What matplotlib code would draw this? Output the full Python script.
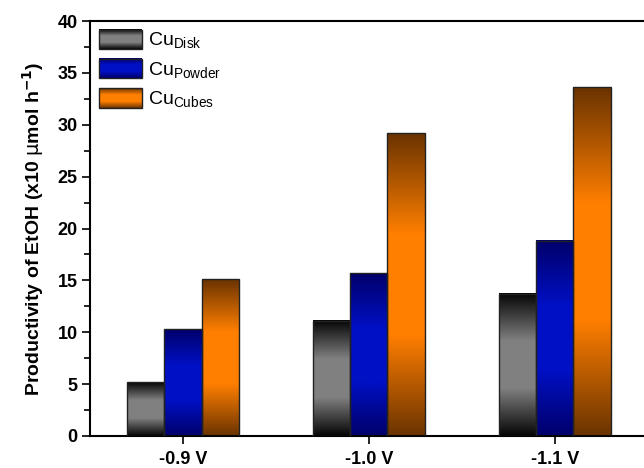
import numpy as np
import matplotlib.pyplot as plt
from matplotlib.colors import LinearSegmentedColormap
from matplotlib.legend_handler import HandlerBase
from matplotlib.image import BboxImage
from matplotlib.transforms import Bbox, TransformedBbox
from matplotlib.patches import Rectangle
from matplotlib.ticker import MultipleLocator

plt.rcParams['font.family'] = ['Liberation Sans', 'DejaVu Sans']

# data
potentials = ['-0.9 V', '-1.0 V', '-1.1 V']
cu_disk = [5.2, 11.1, 13.7]
cu_powder = [10.3, 15.7, 18.8]
cu_cubes = [15.1, 29.2, 33.6]
series_names = ['Cu$_{\\mathregular{Disk}}$', 'Cu$_{\\mathregular{Powder}}$', 'Cu$_{\\mathregular{Cubes}}$']

# dark -> light -> dark shading of every bar
cmaps = [
    LinearSegmentedColormap.from_list('disk', ['#050505', '#808080', '#808080', '#050505']),
    LinearSegmentedColormap.from_list('powder', ['#00006a', '#0010c4', '#0010c4', '#00006a']),
    LinearSegmentedColormap.from_list('cubes', ['#6a3300', '#ff7f00', '#ff7f00', '#6a3300']),
]
grad = np.linspace(0, 1, 256).reshape(-1, 1)


class GradientHandler(HandlerBase):
    def __init__(self, cmap):
        super().__init__()
        self.cmap = cmap

    def create_artists(self, legend, orig_handle, xdescent, ydescent,
                       width, height, fontsize, trans):
        bb = TransformedBbox(Bbox.from_bounds(-xdescent, -ydescent, width, height), trans)
        img = BboxImage(bb, cmap=self.cmap, interpolation='bilinear')
        img.set_data(grad)
        rect = Rectangle((-xdescent, -ydescent), width, height, facecolor='none',
                         edgecolor='#222222', lw=1, transform=trans)
        return [img, rect]


fig = plt.figure(figsize=(6.44, 4.68), dpi=100)
ax = fig.add_axes([0.1398, 0.0684, 0.866, 0.8866])

x = np.arange(len(potentials))
width = 0.2
handles = []
for i, vals in enumerate([cu_disk, cu_powder, cu_cubes]):
    bars = ax.bar(x + (i - 1) * width, vals, width, facecolor='none',
                  edgecolor='#222222', linewidth=1, zorder=3)
    for p in bars.patches:
        x0, y0 = p.get_x(), p.get_y()
        ax.imshow(grad, cmap=cmaps[i], aspect='auto', origin='lower',
                  extent=(x0, x0 + p.get_width(), y0, y0 + p.get_height()),
                  interpolation='bilinear', zorder=2)
    handles.append(bars)

ax.set_xlim(-0.5, 2.5)
ax.set_ylim(0, 40)
ax.set_xticks(x)
ax.set_xticklabels(potentials, fontweight='bold', fontsize=13)
ax.yaxis.set_major_locator(MultipleLocator(5))
ax.yaxis.set_minor_locator(MultipleLocator(2.5))
for lab in ax.get_yticklabels():
    lab.set_fontweight('bold')
    lab.set_fontsize(13)
ax.tick_params(axis='both', which='major', direction='out', length=6, width=1.2)
ax.tick_params(axis='y', which='minor', direction='out', length=4, width=1.2)
ax.tick_params(axis='x', pad=5)
ax.tick_params(axis='y', pad=3)
for s in ax.spines.values():
    s.set_linewidth(1.5)
ax.spines['right'].set_visible(False)

ax.set_ylabel('Productivity of EtOH (x10 $\\mathrm{\\mu}$mol h$^{\\mathbf{-1}}$)',
              fontweight='bold', fontsize=14, labelpad=8)

ax.legend(handles, series_names, loc='upper left', frameon=False, fontsize=14,
          handlelength=2.2, handleheight=1.15, labelspacing=0.4,
          handletextpad=0.35, borderaxespad=0.05,
          handler_map={h: GradientHandler(c) for h, c in zip(handles, cmaps)})

fig.savefig('out.png', dpi=100)
